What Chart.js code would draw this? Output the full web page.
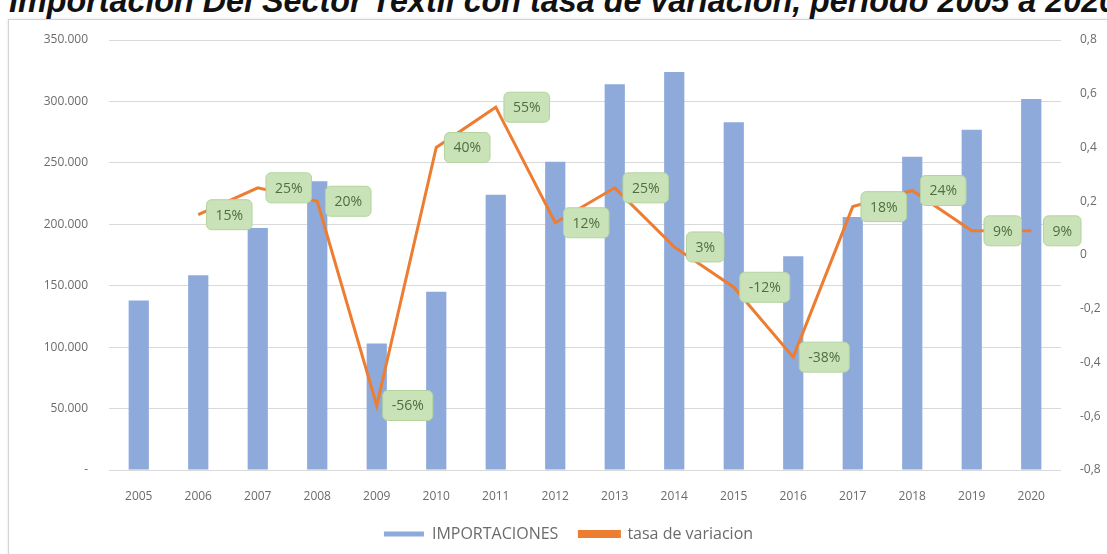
<!DOCTYPE html>
<html>
<head>
<meta charset="utf-8">
<script src="https://cdn.jsdelivr.net/npm/chart.js@4"></script>
<style>
html,body{margin:0;padding:0;background:#fff;overflow:hidden}
#wrap{position:relative;width:1107px;height:554px;overflow:hidden}
#title{position:absolute;left:9px;top:-17px;white-space:nowrap;font:italic bold 32.3px "Liberation Sans",Arial,sans-serif;color:#111}
#frame{position:absolute;left:8px;top:19px;width:1120px;height:560px;border:1px solid #d4d4d4;box-shadow:0 0 3px rgba(0,0,0,.12)}
#c{position:absolute;left:0;top:0}
</style>
</head>
<body>
<div id="wrap">
  <div id="title">Importación Del Sector Textil con tasa de variación, periodo 2005 a 2020</div>
  <div id="frame"></div>
  <canvas id="c" width="1107" height="554"></canvas>
</div>
<script>
// años
const years=['2005','2006','2007','2008','2009','2010','2011','2012','2013','2014','2015','2016','2017','2018','2019','2020'];
// importaciones (miles)
const importaciones=[138000,158600,197000,235000,103000,145000,224000,251000,314000,324000,283000,174000,206000,255000,277000,302000];
// tasa de variación anual
const tasa=[null,0.15,0.25,0.20,-0.56,0.40,0.55,0.12,0.25,0.03,-0.12,-0.38,0.18,0.24,0.09,0.09];

const GRIS='#6b6b6b';
const FUENTE='"Open Sans","Liberation Sans",sans-serif';

function fmtMiles(v){
  if(v===0)return '-';
  return String(v).replace(/\B(?=(\d{3})+(?!\d))/g,'.');
}
function fmtTasa(v){
  if(Math.abs(v)<1e-9)return '0';
  return (Math.round(v*10)/10).toFixed(1).replace('.',',');
}

// etiquetas verdes junto a cada punto de la tasa
const etiquetas={
  id:'etiquetas',
  afterDatasetsDraw(chart){
    const ctx=chart.ctx,xs=chart.scales.x,ys=chart.scales.y1;
    ctx.save();
    ctx.font='14px '+FUENTE;
    ctx.textAlign='center';ctx.textBaseline='middle';
    tasa.forEach(function(v,i){
      if(v===null)return;
      const txt=Math.round(v*100)+'%';
      const cx=xs.getPixelForValue(i)+31,cy=ys.getPixelForValue(v);
      const w=ctx.measureText(txt).width+18,h=30;
      ctx.beginPath();
      ctx.roundRect(cx-w/2,cy-h/2,w,h,5);
      ctx.fillStyle='#c9e2b8';ctx.fill();
      ctx.lineWidth=1;ctx.strokeStyle='#b4d49e';ctx.stroke();
      ctx.fillStyle='#4f6e3c';
      ctx.fillText(txt,cx,cy+1);
    });
    ctx.restore();
  }
};

new Chart(document.getElementById('c'),{
  data:{
    labels:years,
    datasets:[
      {type:'bar',label:'IMPORTACIONES',data:importaciones,backgroundColor:'#8eaadb',
        barPercentage:0.34,categoryPercentage:1,yAxisID:'y',order:1},
      {type:'line',label:'tasa de variacion',data:tasa,borderColor:'#ed7d31',backgroundColor:'#ed7d31',
        borderWidth:3,pointRadius:0,tension:0,yAxisID:'y1',order:0}
    ]
  },
  options:{
    responsive:false,animation:false,
    layout:{padding:{left:30,right:0,top:40,bottom:2}},
    plugins:{
      legend:{position:'bottom',
        labels:{color:GRIS,font:{family:FUENTE,size:16},boxWidth:40,boxHeight:5,padding:21,
          sort:function(a,b){return a.datasetIndex-b.datasetIndex;}}},
      tooltip:{enabled:false}
    },
    scales:{
      x:{grid:{display:false},border:{display:false},
        ticks:{color:GRIS,font:{family:FUENTE,size:12},padding:11,maxRotation:0},
        afterFit:function(s){s.height=35;}},
      y:{position:'left',min:0,max:350000,
        grid:{color:'#d9d9d9',drawTicks:false},border:{display:false},
        ticks:{stepSize:50000,color:GRIS,font:{family:FUENTE,size:12},padding:21,callback:fmtMiles},
        afterFit:function(s){s.width=79;}},
      y1:{position:'right',min:-0.8,max:0.8,
        grid:{display:false},border:{display:false},
        ticks:{stepSize:0.2,color:GRIS,font:{family:FUENTE,size:12},padding:11,callback:fmtTasa},
        afterFit:function(s){s.width=46;}}
    }
  },
  plugins:[etiquetas]
});
</script>
</body>
</html>
